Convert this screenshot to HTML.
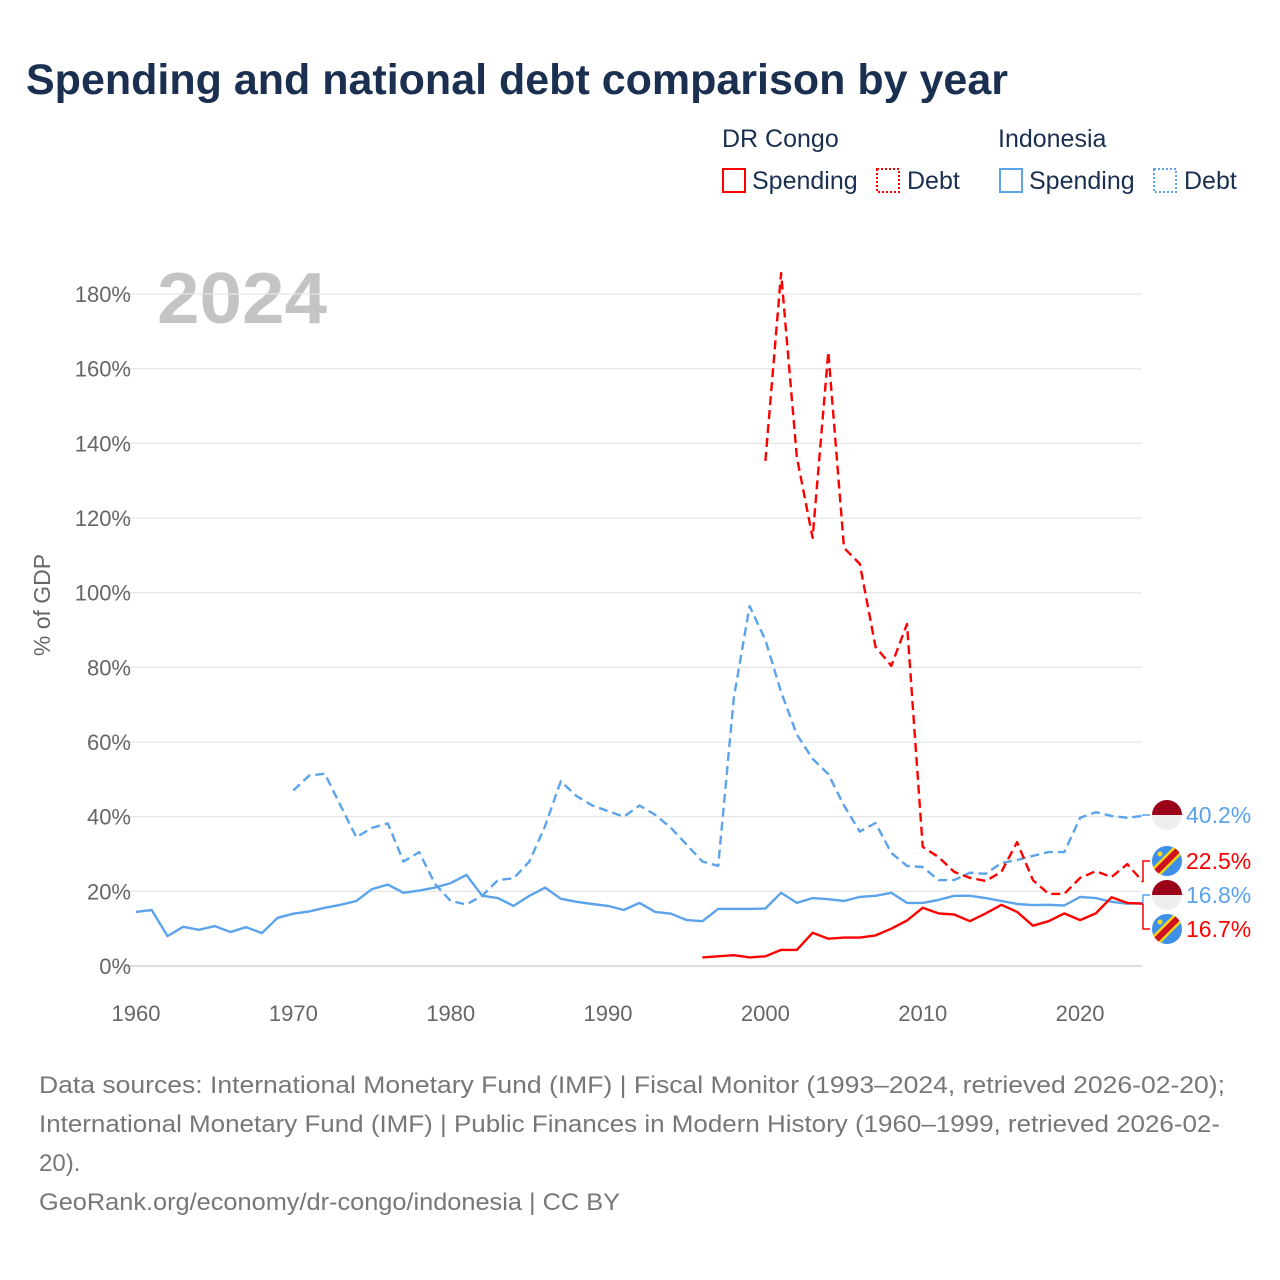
<!DOCTYPE html>
<html><head><meta charset="utf-8"><style>
body{margin:0;width:1280px;height:1280px;background:#fff;font-family:"Liberation Sans",sans-serif;overflow:hidden}
svg{position:absolute;left:0;top:0}
</style></head><body>
<svg id="chart" width="1280" height="1280">
<text x="26" y="94" font-size="43" font-weight="bold" fill="#1b3050">Spending and national debt comparison by year</text>
<g font-size="25" fill="#1b3050">
<text x="722" y="147">DR Congo</text>
<text x="998" y="147">Indonesia</text>
<g><rect x="723" y="169" width="22" height="23" fill="none" stroke="#f00" stroke-width="2"/><text x="752" y="189">Spending</text></g>
<g><rect x="877" y="169" width="22" height="23" fill="none" stroke="#f00" stroke-width="2" stroke-dasharray="2,2"/><text x="907" y="189">Debt</text></g>
<g><rect x="1000" y="169" width="22" height="23" fill="none" stroke="#5ba3ea" stroke-width="2"/><text x="1029" y="189">Spending</text></g>
<g><rect x="1154" y="169" width="22" height="23" fill="none" stroke="#5ba3ea" stroke-width="2" stroke-dasharray="2,2"/><text x="1184" y="189">Debt</text></g>
</g>
<text x="157" y="323" font-size="72" font-weight="bold" fill="#c4c4c4" textLength="170" lengthAdjust="spacingAndGlyphs">2024</text>
<text transform="translate(50,605) rotate(-90)" text-anchor="middle" font-size="23" fill="#666">% of GDP</text>
<g id="grid"></g><g id="series"></g><g id="endlabels"></g>
<g font-size="24" fill="#777">
<text x="39" y="1093" textLength="1186" lengthAdjust="spacingAndGlyphs">Data sources: International Monetary Fund (IMF) | Fiscal Monitor (1993–2024, retrieved 2026-02-20);</text>
<text x="39" y="1132" textLength="1181" lengthAdjust="spacingAndGlyphs">International Monetary Fund (IMF) | Public Finances in Modern History (1960–1999, retrieved 2026-02-</text>
<text x="39" y="1171">20).</text>
<text x="39" y="1210" textLength="581" lengthAdjust="spacingAndGlyphs">GeoRank.org/economy/dr-congo/indonesia | CC BY</text>
</g>
</svg>
<script>
const yTicks=[0,20,40,60,80,100,120,140,160,180];
const xTicks=[1960,1970,1980,1990,2000,2010,2020];
const idnSpendStart=1960;
const idnSpend=[14.5,15,8,10.5,9.7,10.7,9.1,10.4,8.8,12.9,14,14.6,15.6,16.4,17.4,20.6,21.8,19.6,20.2,21,22.2,24.4,18.8,18.2,16.1,18.8,21,18,17.2,16.6,16.1,15,16.9,14.5,14,12.3,12,15.3,15.3,15.3,15.4,19.6,16.9,18.2,17.9,17.4,18.5,18.8,19.6,16.9,16.9,17.7,18.8,18.8,18.2,17.4,16.6,16.3,16.4,16.2,18.5,18.2,17.2,16.7,16.8];
const idnDebtStart=1970;
const idnDebt=[47,51,51.5,43,34.5,37,38.2,28,30.5,22,17.4,16.5,18.8,23,23.5,28,37.5,49.5,45.5,43,41.5,40,43,40.5,37,32.5,28,26.8,72,96.4,87.3,73.4,62,55.5,51.4,43,36,38.3,30.3,26.8,26.5,23,23,25,24.7,27.6,28.4,29.5,30.5,30.5,39.7,41.2,40.2,39.7,40.2];
const drcSpendStart=1996;
const drcSpend=[2.3,2.6,2.9,2.3,2.6,4.3,4.3,8.9,7.3,7.6,7.6,8.2,10,12.2,15.6,14.1,13.8,12,14.1,16.4,14.5,10.8,12,14.1,12.3,14.1,18.4,16.9,16.7];
const drcDebtStart=2000;
const drcDebt=[135.3,185.6,136.4,114.7,164.5,112,107.7,85.5,80.4,91.6,31.9,29.2,25.2,23.6,22.8,25.2,33.2,23,19.3,19.3,23.6,25.4,23.8,27.3,22.5];

const NS='http://www.w3.org/2000/svg';
const x=yr=>136+(yr-1960)*(1143-136)/64;
const y=v=>966-v*(966-294)/180;
function mk(tag,attrs,parent){const e=document.createElementNS(NS,tag);for(const k in attrs)e.setAttribute(k,attrs[k]);parent.appendChild(e);return e;}
const grid=document.getElementById('grid');
yTicks.forEach(t=>{
 const l=mk('line',{x1:126,x2:1142,y1:y(t),y2:y(t),stroke:t===0?'#ddd':'#e8e8e8','stroke-width':t===0?2:1.3},grid);
 
 
 const tx=mk('text',{x:131,y:y(t)+8,'text-anchor':'end','font-size':22,fill:'#666'},grid);
 tx.textContent=t+'%';
 
 
});
xTicks.forEach(t=>{
 const tx=mk('text',{x:x(t),y:1021,'text-anchor':'middle','font-size':22,fill:'#666'},grid);
 tx.textContent=t;
 
 
});
const ser=document.getElementById('series');
function line(vals,start,color,dash,name){
 const pts=vals.map((v,i)=>x(start+i).toFixed(1)+','+y(v).toFixed(1)).join(' ');
 const p=mk('polyline',{points:pts,fill:'none',stroke:color,'stroke-width':2.4,'stroke-linejoin':'round'},ser);
 if(dash)p.setAttribute('stroke-dasharray','9,5');
 
 
}
line(idnDebt,idnDebtStart,'#5ba3ea',true,'indonesia-debt-line');
line(idnSpend,idnSpendStart,'#5ba3ea',false,'indonesia-spending-line');
line(drcDebt,drcDebtStart,'#f00',true,'drc-debt-line');
line(drcSpend,drcSpendStart,'#f00',false,'drc-spending-line');

const el=document.getElementById('endlabels');
const ends=[
 {v:idnDebt[idnDebt.length-1],ly:815,c:'#5ba3ea',flag:'idn',n:'indonesia-debt'},
 {v:drcDebt[drcDebt.length-1],ly:861,c:'#f00',flag:'drc',n:'drc-debt'},
 {v:idnSpend[idnSpend.length-1],ly:895,c:'#5ba3ea',flag:'idn',n:'indonesia-spending'},
 {v:drcSpend[drcSpend.length-1],ly:929,c:'#f00',flag:'drc',n:'drc-spending'}];
ends.forEach(e=>{
 const g=mk('g',{},el);
 
 
 mk('polyline',{points:`1143,${y(e.v).toFixed(1)} 1143,${e.ly} 1150,${e.ly}`,fill:'none',stroke:e.c,'stroke-width':1.5},g);
 const cx=1167,cy=e.ly;
 if(e.flag==='idn'){
  mk('path',{d:`M${cx-15},${cy} A15,15 0 0 1 ${cx+15},${cy} Z`,fill:'#9b0019'},g);
  mk('path',{d:`M${cx-15},${cy} A15,15 0 0 0 ${cx+15},${cy} Z`,fill:'#eee'},g);
 }else{
  const cp=mk('clipPath',{id:'cp'+e.n},g);
  mk('circle',{cx:cx,cy:cy,r:15},cp);
  const gg=mk('g',{'clip-path':'url(#cp'+e.n+')'},g);
  mk('rect',{x:cx-15,y:cy-15,width:30,height:30,fill:'#3d8fe8'},gg);
  mk('line',{x1:cx-18,y1:cy+18,x2:cx+18,y2:cy-18,stroke:'#f7d618','stroke-width':11},gg);
  mk('line',{x1:cx-18,y1:cy+18,x2:cx+18,y2:cy-18,stroke:'#ce1021','stroke-width':6},gg);
  mk('circle',{cx:cx-7,cy:cy-7,r:2.5,fill:'#f7d618'},gg);
 }
 const t=mk('text',{x:1186,y:cy+8,'font-size':23,fill:e.c},g);
 t.textContent=e.v.toFixed(1)+'%';
});
</script>
</body></html>
